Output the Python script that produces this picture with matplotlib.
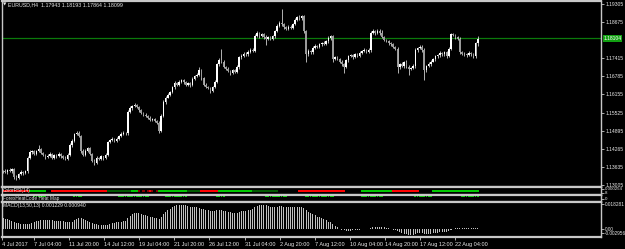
import numpy as np
import matplotlib.pyplot as plt
from matplotlib.transforms import blended_transform_factory

# ---- data (EURUSD H4, Jul-Aug 2017) ----
closes = [
    1.1350, 1.1345, 1.1352, 1.1348, 1.1355, 1.1330, 1.1326, 1.1338, 1.1345, 1.1342,
    1.1348, 1.1395, 1.1415, 1.1420, 1.1410, 1.1418, 1.1425, 1.1412, 1.1405, 1.1398,
    1.1402, 1.1410, 1.1396, 1.1405, 1.1400, 1.1410, 1.1402, 1.1395, 1.1392, 1.1405,
    1.1440, 1.1455, 1.1478, 1.1482, 1.1470, 1.1420, 1.1405, 1.1420, 1.1428, 1.1410,
    1.1385, 1.1378, 1.1395, 1.1392, 1.1400, 1.1395, 1.1405, 1.1450, 1.1458, 1.1462,
    1.1455, 1.1462, 1.1470, 1.1478, 1.1482, 1.1480, 1.1555, 1.1568, 1.1575, 1.1580,
    1.1572, 1.1560, 1.1552, 1.1545, 1.1540, 1.1535, 1.1528, 1.1530, 1.1522, 1.1518,
    1.1490, 1.1540, 1.1590, 1.1605, 1.1615, 1.1625, 1.1640, 1.1655, 1.1650, 1.1660,
    1.1665, 1.1658, 1.1650, 1.1655, 1.1648, 1.1670, 1.1680, 1.1685, 1.1700, 1.1672,
    1.1650, 1.1642, 1.1638, 1.1628, 1.1640, 1.1660, 1.1720, 1.1735, 1.1730, 1.1712,
    1.1705, 1.1698, 1.1690, 1.1700, 1.1695, 1.1710, 1.1745, 1.1750, 1.1758, 1.1755,
    1.1765, 1.1772, 1.1768, 1.1820, 1.1830, 1.1818, 1.1825, 1.1815, 1.1808, 1.1815,
    1.1810, 1.1818, 1.1835, 1.1855, 1.1865, 1.1860, 1.1850, 1.1845, 1.1852, 1.1848,
    1.1862, 1.1875, 1.1885, 1.1880, 1.1888, 1.1835, 1.1755, 1.1768, 1.1762, 1.1778,
    1.1785, 1.1782, 1.1790, 1.1795, 1.1792, 1.1800, 1.1812, 1.1818, 1.1740, 1.1745,
    1.1738, 1.1730, 1.1720, 1.1712, 1.1735, 1.1748, 1.1752, 1.1745, 1.1755, 1.1750,
    1.1760, 1.1768, 1.1772, 1.1765, 1.1770, 1.1830, 1.1835, 1.1828, 1.1838, 1.1830,
    1.1815, 1.1805, 1.1800, 1.1795, 1.1790, 1.1782, 1.1775, 1.1710, 1.1720, 1.1715,
    1.1728, 1.1712, 1.1705, 1.1708, 1.1715, 1.1770, 1.1778, 1.1782, 1.1770, 1.1700,
    1.1715, 1.1722, 1.1730, 1.1738, 1.1748, 1.1752, 1.1760, 1.1755, 1.1762, 1.1750,
    1.1775, 1.1825, 1.1822, 1.1815, 1.1810, 1.1765, 1.1758, 1.1755, 1.1752, 1.1760,
    1.1755, 1.1748, 1.1794, 1.1810,
]
first_open = 1.1348

# wick sizes above / below the body, in pips
wick_hi = [
    4, 5, 3, 6, 4, 3, 5, 4, 6, 3,   4, 5, 6, 4, 3, 5, 14, 4, 5, 3,
    6, 4, 3, 5, 4, 7, 3, 4, 5, 6,   5, 6, 4, 5, 6, 4, 7, 5, 6, 4,
    3, 5, 6, 4, 5, 3, 6, 5, 4, 6,   3, 5, 4, 6, 5, 4, 8, 6, 5, 6,
    4, 3, 5, 4, 6, 3, 4, 5, 3, 4,   5, 6, 7, 5, 6, 4, 5, 6, 4, 7,
    5, 4, 6, 3, 5, 6, 4, 7, 11, 5,  4, 6, 3, 5, 4, 6, 5, 7, 40, 5,
    4, 6, 3, 5, 4, 7, 5, 6, 4, 5,   6, 4, 5, 7, 6, 4, 5, 3, 6, 4,
    5, 6, 4, 7, 5, 48, 6, 4, 5, 6,  4, 6, 5, 7, 5, 4, 6, 5, 4, 6,
    5, 4, 6, 3, 5, 4, 6, 5, 4, 6,   3, 5, 4, 6, 5, 4, 6, 3, 5, 4,
    6, 4, 5, 3, 6, 5, 7, 4, 6, 5,   10, 4, 5, 6, 3, 5, 4, 6, 5, 7,
    4, 6, 5, 3, 5, 6, 4, 7, 5, 6,   4, 5, 6, 3, 5, 4, 6, 5, 4, 6,
    5, 5, 6, 4, 5, 6, 3, 5, 4, 6,   5, 4, 4, 9,
]
wick_lo = [
    5, 4, 6, 3, 5, 8, 8, 4, 3, 5,   4, 6, 3, 5, 4, 6, 3, 5, 4, 6,
    5, 3, 6, 4, 5, 3, 6, 4, 5, 3,   4, 6, 5, 3, 4, 8, 5, 4, 6, 5,
    5, 8, 4, 5, 3, 6, 4, 5, 3, 4,   6, 4, 5, 3, 4, 5, 6, 4, 5, 3,
    4, 5, 6, 3, 4, 5, 4, 6, 3, 5,   9, 5, 4, 6, 3, 5, 4, 6, 5, 4,
    5, 6, 4, 5, 6, 3, 5, 4, 6, 5,   6, 4, 5, 6, 4, 3, 5, 4, 6, 4,
    5, 4, 6, 3, 5, 4, 6, 5, 3, 4,   5, 6, 4, 5, 3, 6, 4, 5, 21, 4,
    6, 4, 5, 3, 4, 6, 5, 4, 6, 5,   4, 5, 3, 6, 4, 5, 27, 5, 4, 6,
    3, 5, 4, 6, 5, 3, 4, 6, 12, 5,  4, 6, 5, 22, 4, 5, 3, 6, 4, 5,
    4, 3, 5, 4, 6, 5, 4, 5, 3, 6,   4, 5, 3, 6, 4, 5, 4, 20, 5, 4,
    6, 4, 22, 5, 4, 6, 5, 3, 5, 34, 5, 4, 6, 3, 5, 4, 6, 4, 5, 6,
    4, 5, 3, 6, 5, 8, 4, 5, 6, 4,   5, 6, 4, 8,
]

# MACD(13,50,13) main histogram, in units of 1e-4
macd_hist = [
    80, 78, 72, 65, 58, 52, 48, 44, 40, 38,   37, 38, 42, 48, 55, 60, 63, 65, 66, 66,
    66, 65, 64, 63, 62, 62, 60, 58, 55, 52,   52, 56, 66, 76, 80, 80, 74, 66, 58, 50,
    44, 40, 35, 32, 30, 28, 28, 32, 38, 44,   48, 50, 52, 55, 58, 62, 80, 95, 108, 116,
    118, 116, 112, 106, 100, 95, 90, 86, 82, 80,  78, 90, 110, 125, 138, 148, 158, 166, 172, 175,
    176, 175, 172, 168, 164, 162, 160, 158, 156, 150,  144, 140, 136, 132, 130, 131, 136, 140, 138, 134,
    130, 126, 122, 120, 118, 120, 126, 130, 132, 134,  138, 142, 146, 160, 170, 174, 175, 174, 172, 168,
    164, 162, 162, 164, 166, 166, 164, 162, 160, 160,  160, 162, 164, 164, 162, 155, 140, 128, 118, 108,
    100, 92, 86, 80, 72, 64, 56, 50, 36, 25,   15, 6, -2, -8, -10, -10, -9, -8, -6, -4,
    -2, 0, 2, 4, 5, 10, 15, 18, 20, 20,   18, 15, 12, 8, 4, -2, -5, -15, -22, -28,
    -32, -36, -40, -42, -40, -32, -28, -26, -28, -34,  -34, -32, -30, -28, -26, -24, -22, -20, -18, -16,
    -10, -2, 6, 10, 12, 10, 8, 8, 8, 9,   10, 10, 11, 12,
]

# ColorRSI strip colour per bar (R red, r dark red, G green, g dark green, k none)
rsi_colors = ('R' * 12 + 'G' * 8 + 'k' * 2 + 'R' * 25 + 'g' * 11 + 'G' * 3 + 'rkrkrRrkr'
              + 'G' * 13 + 'g' * 6 + 'R' * 8 + 'G' * 15 + 'g' * 12 + 'k' * 9 + 'R' * 21
              + 'k' * 7 + 'G' * 14 + 'R' * 12 + 'k' * 6 + 'G' * 21)

# ForexHeatCode heat map: runs of bars with a green mark
heat_runs = [(14, 19), (32, 35), (52, 65), (73, 82), (96, 99), (118, 127),
             (136, 148), (161, 170), (185, 192), (206, 213)]

date_ticks = [-0.4, 13.7, 29.5, 45.3, 61.0, 76.8, 92.6, 108.4, 124.2, 139.9,
              155.7, 171.5, 187.3, 203.0]
date_labels = ['4 Jul 2017', '7 Jul 04:00', '11 Jul 20:00', '14 Jul 12:00', '19 Jul 04:00',
               '21 Jul 20:00', '26 Jul 12:00', '31 Jul 04:00', '2 Aug 20:00', '7 Aug 12:00',
               '10 Aug 04:00', '14 Aug 20:00', '17 Aug 12:00', '22 Aug 04:00']

price_ticks = [1.19305, 1.18675, 1.17415, 1.16785, 1.16155, 1.15525,
               1.14895, 1.14265, 1.13635, 1.13005]
bid_price = 1.18104
header = 'EURUSD,H4  1.17943 1.18193 1.17864 1.18099'
macd_label = 'MACD(13,50,13) 0.001229 0.000940'

# ---- layout (pixel based, screenshot is 625 x 249) ----
W, H = 625, 249
BORDER = '#c8c8c8'
TXT = '#e8e8e8'
FONT = ['Liberation Sans', 'DejaVu Sans']
X_LO, X_HI = -0.45, 268.3

plt.rcParams['font.family'] = FONT
fig = plt.figure(figsize=(W / 100, H / 100), dpi=100, facecolor='black')


def px_axes(x0, y0, x1, y1):
    ax = fig.add_axes([x0 / W, 1 - y1 / H, (x1 - x0) / W, (y1 - y0) / H])
    ax.set_facecolor('black')
    for s in ax.spines.values():
        s.set_color(BORDER)
        s.set_linewidth(1.0)
    ax.set_xticks([])
    ax.set_yticks([])
    ax.set_xlim(X_LO, X_HI)
    return ax


def right_labels(ax, ticks, labels, size=3.6):
    ax.yaxis.tick_right()
    ax.set_yticks(ticks)
    ax.set_yticklabels(labels)
    ax.tick_params(axis='y', length=2, width=0.6, colors=BORDER, labelcolor=TXT,
                   labelsize=size, pad=1)


c = np.array(closes)
o = np.r_[first_open, c[:-1]]
hi = np.maximum(o, c) + np.array(wick_hi) / 10000
lo = np.minimum(o, c) - np.array(wick_lo) / 10000
idx = np.arange(len(c))

# main price panel
ax = px_axes(2, 1, 601, 187)
ax.set_ylim(1.12935, 1.19409)
ax.axhline(bid_price, color='#0b7a0b', lw=0.9, zorder=1)
ax.vlines(idx, lo, hi, colors='#d0d0d0', lw=0.6, zorder=2)
bull = c >= o
body_h = np.maximum(np.abs(c - o), 0.00005)
ax.bar(idx[bull], body_h[bull], bottom=np.minimum(o, c)[bull], width=0.7,
       color='white', edgecolor='none', zorder=3)
ax.bar(idx[~bull], body_h[~bull], bottom=np.minimum(o, c)[~bull], width=0.7,
       color='#9a9a9a', edgecolor='none', zorder=3)
right_labels(ax, price_ticks, [f'{p:.5f}' for p in price_ticks])
tr = blended_transform_factory(ax.transAxes, ax.transData)
ax.text(1.004, bid_price, f'{bid_price:.5f}', transform=tr, fontsize=3.6, color='white',
        va='center', ha='left',
        bbox=dict(boxstyle='square,pad=0.15', facecolor='#12a012', edgecolor='none'))
fig.text(3 / W, 1 - 5 / H, '\u25bc', fontsize=3.2, color=TXT, va='center', ha='left',
         family=['DejaVu Sans'])
fig.text(8 / W, 1 - 5 / H, header, fontsize=3.8, color=TXT, va='center', ha='left')

# ColorRSI strip
ax_rsi = px_axes(2, 187, 601, 195)
ax_rsi.set_ylim(0, 1)
cmap = {'R': '#ff0000', 'r': '#8b0000', 'G': '#00c800', 'g': '#005a00', 'k': '#000000'}
ax_rsi.bar(idx, 0.26, bottom=0.40, width=1.0,
           color=[cmap[k] for k in rsi_colors], edgecolor='none')
fig.text(3 / W, 1 - 190.5 / H, 'ColorRSI(14)', fontsize=3.4, color=TXT, va='center', ha='left')
right_labels(ax_rsi, [0.8, 0.3], ['0.000254', '8'], size=3.2)

# ForexHeatCode panel
ax_heat = px_axes(2, 195, 601, 202)
ax_heat.set_ylim(0, 1)
for a, b in heat_runs:
    run = np.arange(a, b + 1)
    ax_heat.bar(run, 0.22, bottom=0.72, width=0.8, color='#00d000', edgecolor='none')
fig.text(3 / W, 1 - 198.5 / H, 'ForexHeatCode Heat Map', fontsize=3.4, color=TXT,
         va='center', ha='left')
right_labels(ax_heat, [0.5], ['0'], size=3.2)

# MACD panel
ax_m = px_axes(2, 202, 601, 237)
ax_m.set_ylim(-0.0055, 0.0197)
ax_m.bar(idx, np.array(macd_hist) / 10000, width=0.45, color='#c0c0c0', edgecolor='none')
right_labels(ax_m, [0.018281, 0.0, -0.002956], ['0.018281', '0.00', '-0.002956'], size=3.4)
fig.text(3 / W, 1 - 206 / H, macd_label, fontsize=3.6, color=TXT, va='center', ha='left')
ax_m.set_xticks(date_ticks)
ax_m.set_xticklabels(date_labels)
ax_m.tick_params(axis='x', length=2, width=0.6, colors=BORDER, labelcolor=TXT,
                 labelsize=4.0, pad=1.5)
for lab in ax_m.get_xticklabels():
    lab.set_ha('left')

# thicker panel separators, as in the terminal window
for a in (ax, ax_rsi, ax_heat, ax_m):
    a.spines['top'].set_linewidth(1.6)
    a.spines['bottom'].set_linewidth(1.6)

fig.savefig('out.png', dpi=100, facecolor='black')
